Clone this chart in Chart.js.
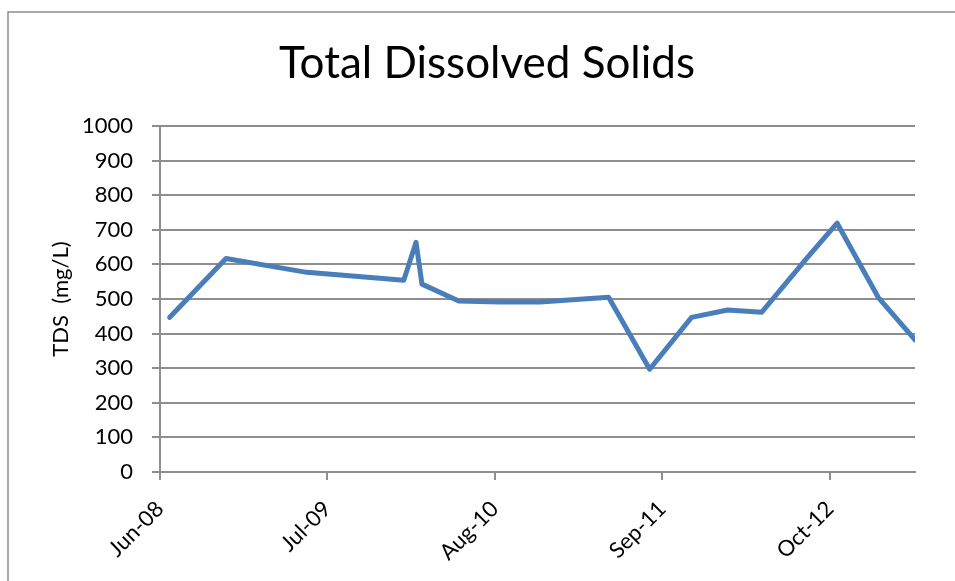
<!DOCTYPE html>
<html>
<head>
<meta charset="utf-8">
<script src="https://cdn.jsdelivr.net/npm/chart.js@4"></script>
<style>
  html, body { margin: 0; padding: 0; background: #fff; overflow: hidden; }
  #wrap { position: relative; width: 955px; height: 581px; }
</style>
</head>
<body>
<div id="wrap"><canvas id="tds-chart" width="955" height="581"></canvas></div>
<script>
const sampleDates = [
  '2008-06-24', '2008-11-04', '2009-05-14', '2009-12-29', '2010-01-27', '2010-02-10',
  '2010-05-08', '2010-08-13', '2010-11-16', '2011-04-27', '2011-08-02', '2011-11-09',
  '2012-02-02', '2012-04-23', '2012-08-10', '2012-10-18', '2013-01-23', '2013-04-20',
]
const tdsValues = [447, 617, 577, 554, 664, 543, 494, 491, 491, 505, 297, 447, 468, 462, 622, 719, 505, 382]

const tickDates = ['2008-06-01', '2009-07-01', '2010-08-01', '2011-09-01', '2012-10-01']
const tickLabels = ['Jun-08', 'Jul-09', 'Aug-10', 'Sep-11', 'Oct-12']

const chartTitle = 'Total Dissolved Solids'
const gridGrey = '#8e8e8e'
const fontFamily = 'Lato, "Open Sans", sans-serif'

function dayNumber(iso) {
  const [y, m, d] = iso.split('-').map(Number)
  return Date.UTC(y, m - 1, d) / 86400000
}

const points = sampleDates.map((date, i) => ({ x: dayNumber(date), y: tdsValues[i] }))

// white background, the grey chart frame and the title centred on the frame (like Excel)
const framePlugin = {
  id: 'frame',
  beforeDraw(chart) {
    const { ctx, width, height } = chart
    ctx.save()
    ctx.fillStyle = '#fff'
    ctx.fillRect(0, 0, width, height)
    ctx.strokeStyle = '#8c8c8c'
    ctx.lineWidth = 1.5
    ctx.beginPath()
    ctx.moveTo(8, height + 5)
    ctx.lineTo(8, 12)
    ctx.lineTo(width + 5, 12)
    ctx.stroke()

    ctx.fillStyle = '#000'
    ctx.font = `44px ${fontFamily}`
    ctx.textAlign = 'center'
    ctx.textBaseline = 'alphabetic'
    ctx.fillText(chartTitle, 487, 78)
    ctx.restore()
  },
}

new Chart(document.getElementById('tds-chart'), {
  type: 'line',
  data: {
    datasets: [
      {
        label: 'TDS',
        data: points,
        borderColor: '#4a7ebb',
        borderWidth: 5,
        borderJoinStyle: 'round',
        borderCapStyle: 'round',
        pointRadius: 0,
        tension: 0,
        fill: false,
      },
    ],
  },
  options: {
    responsive: false,
    animation: false,
    layout: { padding: { left: 0, right: 40, top: 126, bottom: 0 } },
    plugins: {
      legend: { display: false },
      tooltip: { enabled: false },
      title: { display: false },
    },
    scales: {
      x: {
        type: 'linear',
        min: dayNumber(tickDates[0]),
        max: dayNumber(sampleDates[sampleDates.length - 1]),
        afterBuildTicks: (scale) => {
          scale.ticks = tickDates.map((d) => ({ value: dayNumber(d) }))
        },
        afterFit: (scale) => {
          scale.height = 109
        },
        ticks: {
          autoSkip: false,
          minRotation: 45,
          maxRotation: 45,
          padding: 16,
          color: '#000',
          font: { family: fontFamily, size: 22 },
          callback: (value, index) => tickLabels[index],
        },
        grid: {
          drawOnChartArea: false,
          drawTicks: true,
          tickLength: 8,
          color: gridGrey,
          lineWidth: 2,
        },
        border: { display: true, color: gridGrey, width: 2 },
      },
      y: {
        min: 0,
        max: 1000,
        afterFit: (scale) => {
          scale.width = 160
        },
        ticks: {
          stepSize: 100,
          padding: 19,
          color: '#000',
          font: { family: fontFamily, size: 22 },
          callback: (value) => String(value),
        },
        grid: {
          color: gridGrey,
          lineWidth: 2,
          tickLength: 8,
        },
        border: { display: true, color: gridGrey, width: 2 },
        title: {
          display: true,
          text: 'TDS  (mg/L)',
          color: '#000',
          font: { family: fontFamily, size: 22 },
          padding: { top: 48, bottom: 0 },
        },
      },
    },
  },
  plugins: [framePlugin],
})
</script>
</body>
</html>
